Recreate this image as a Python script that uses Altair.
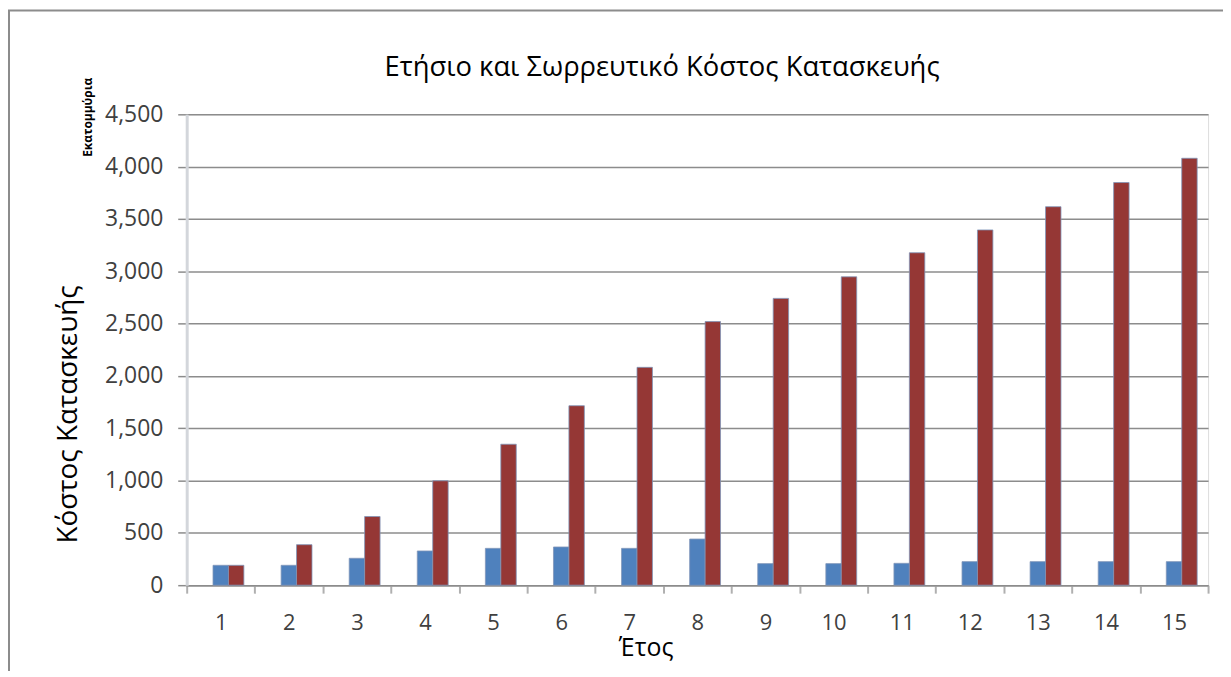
import altair as alt
import pandas as pd

# ---- data ----
years = list(range(1, 16))
annual = [190, 190, 257, 327, 352, 365, 352, 441, 206, 206, 209, 225, 225, 225, 225]
cumulative = [190, 387, 656, 998, 1347, 1715, 2082, 2519, 2741, 2947, 3177, 3395, 3617, 3848, 4080]
series_names = ["Ετήσιο", "Σωρρευτικό"]
series_colors = ["#4f81bd", "#953735"]
y_ticks = [0, 500, 1000, 1500, 2000, 2500, 3000, 3500, 4000, 4500]
chart_title = ["Ετήσιο και Σωρρευτικό Κόστος Κατασκευής"]
y_title = "Κόστος Κατασκευής"
x_title = "Έτος"
unit_label = ["Εκατομμύρια"]

rows = []
for yr, a, c in zip(years, annual, cumulative):
    rows.append({"year": yr, "series": series_names[0], "value": a})
    rows.append({"year": yr, "series": series_names[1], "value": c})
df = pd.DataFrame(rows)

W, H = 1026, 473
FONT = "Open Sans"
GRID = "#8c8c8c"

bars = alt.Chart(df).mark_bar(
    stroke="#7f95b8", strokeWidth=1, strokeOpacity=0.8
).encode(
    x=alt.X(
        "year:O",
        title=x_title,
        scale=alt.Scale(paddingInner=0, paddingOuter=0),
        axis=alt.Axis(
            labelAngle=0, labelFont=FONT, labelFontSize=22, labelColor="#404040",
            labelBaseline="middle", labelPadding=30,
            tickBand="extent", tickSize=8, tickColor="#b0b0b0", tickWidth=2,
            domainColor=GRID, domainWidth=1.5, grid=False,
            titleFont=FONT, titleFontSize=25, titleFontWeight="normal", titleColor="#000000",
            titleX=461, titleY=63, titleBaseline="middle", titleAlign="center",
        ),
    ),
    xOffset=alt.XOffset(
        "series:N",
        scale=alt.Scale(domain=["_gap"] + series_names, paddingInner=0, paddingOuter=0.706),
    ),
    y=alt.Y(
        "value:Q",
        title=y_title,
        scale=alt.Scale(domain=[0, 4500], nice=False),
        axis=alt.Axis(
            values=y_ticks, format=",d",
            labelFont=FONT, labelFontSize=23, labelColor="#404040", labelPadding=15,
            tickSize=9, tickColor=GRID, tickWidth=1.5,
            grid=True, gridColor=GRID, gridWidth=1.5,
            domainColor="#d3d6db", domainWidth=3,
            titleFont=FONT, titleFontSize=28, titleFontWeight="normal", titleColor="#000000",
            titleAngle=270, titleX=-119, titleY=301, titleBaseline="middle", titleAlign="center",
        ),
    ),
    color=alt.Color("series:N", scale=alt.Scale(domain=series_names, range=series_colors), legend=None),
)

unit = alt.Chart(pd.DataFrame({"t": unit_label})).mark_text(
    angle=270, font=FONT, fontSize=12, fontWeight="bold", color="#000000",
    align="center", baseline="middle",
).encode(text="t:N", x=alt.value(-99.5), y=alt.value(3))

title = alt.Chart(pd.DataFrame({"t": chart_title})).mark_text(
    font=FONT, fontSize=27.5, color="#000000", align="center", baseline="middle",
).encode(text="t:N", x=alt.value(477.5), y=alt.value(-46.5))

frame = alt.Chart(pd.DataFrame({"f": [0]})).mark_rect(
    fillOpacity=0, stroke="#8c8c8c", strokeWidth=2
).encode(x=alt.value(-178.5), x2=alt.value(W + 100), y=alt.value(-104.3), y2=alt.value(H + 200))

chart = alt.layer(frame, bars, unit, title).properties(
    width=W, height=H,
    padding={"left": 179.5, "top": 105.3, "right": 15, "bottom": 85},
    autosize=alt.AutoSizeParams(type="none"),
).configure_view(
    fill="#e6ebf3", stroke=None
).configure(background="#ffffff")

chart.save("out.html", embed_options={"renderer": "svg", "actions": False})
